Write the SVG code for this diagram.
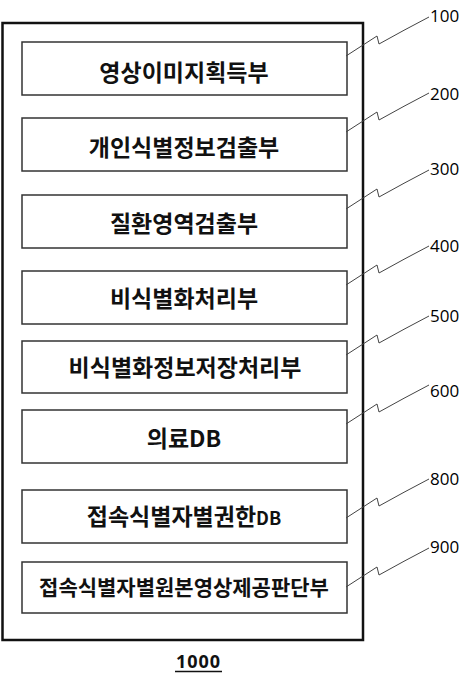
<svg xmlns="http://www.w3.org/2000/svg" width="466" height="685" viewBox="0 0 466 685">
<style>
.outer{fill:none;stroke:#111;stroke-width:2.5}
.box{fill:#fff;stroke:#333;stroke-width:1.5}
.t{font-family:"Noto Sans CJK KR","Noto Sans",sans-serif;font-weight:bold;font-size:23px;fill:#111;text-anchor:middle}
.lead{fill:none;stroke:#444;stroke-width:1}
.num{font-family:"Open Sans","Liberation Sans",sans-serif;font-size:17px;fill:#000}
</style>
<rect x="0" y="0" width="466" height="685" fill="#fff"/>
<rect class="outer" x="2.5" y="23" width="360.5" height="617"/>
<g id="n100"><rect class="box" x="22" y="42" width="325" height="53"/><text class="t" x="184" y="81">영상이미지획득부</text></g>
<g id="n200"><rect class="box" x="22" y="118" width="325" height="53"/><text class="t" x="184" y="156">개인식별정보검출부</text></g>
<g id="n300"><rect class="box" x="22" y="195" width="325" height="53"/><text class="t" x="184" y="232">질환영역검출부</text></g>
<g id="n400"><rect class="box" x="22" y="271" width="325" height="53"/><text class="t" x="184" y="307">비식별화처리부</text></g>
<g id="n500"><rect class="box" x="22" y="341" width="325" height="52"/><text class="t" x="185" y="376">비식별화정보저장처리부</text></g>
<g id="n600"><rect class="box" x="22" y="410" width="325" height="53"/><text class="t" x="184" y="447">의료DB</text></g>
<g id="n800"><rect class="box" x="22" y="490" width="325" height="53"/><text class="t" x="184" y="525">접속식별자별권한<tspan font-size="18px">DB</tspan></text></g>
<g id="n900"><rect class="box" x="22" y="562" width="325" height="51"/><text class="t" x="184" y="595" style="font-size:21px">접속식별자별원본영상제공판단부</text></g>
<g id="connectors">
<path class="lead" d="M346,56 L377,36 L379,44 Q404,30 429,17"/>
<path class="lead" d="M346,132 L377,112 L379,120 Q404,106 429,93"/>
<path class="lead" d="M346,209 L377,189 L379,197 Q404,183 429,170"/>
<path class="lead" d="M346,285 L377,265 L379,273 Q404,259 429,246"/>
<path class="lead" d="M346,355 L377,335 L379,343 Q404,329 429,316"/>
<path class="lead" d="M346,424 L377,404 L379,412 Q404,398 429,385"/>
<path class="lead" d="M346,518 L377,498 L379,506 Q404,492 429,479"/>
<path class="lead" d="M346,587 L377,567 L379,575 Q404,561 429,548"/>
</g>
<g id="labels">
<text class="num" x="430" y="22">100</text>
<text class="num" x="430" y="100">200</text>
<text class="num" x="430" y="175">300</text>
<text class="num" x="430" y="252">400</text>
<text class="num" x="430" y="322">500</text>
<text class="num" x="430" y="397">600</text>
<text class="num" x="430" y="485">800</text>
<text class="num" x="430" y="553">900</text>
</g>
<g id="n1000">
<text x="198.5" y="668" font-family="Open Sans, Liberation Sans, sans-serif" font-weight="bold" font-size="18px" fill="#111" text-anchor="middle" letter-spacing="1">1000</text>
<line x1="175" y1="671.5" x2="222" y2="671.5" stroke="#111" stroke-width="1.5"/>
</g>
</svg>
